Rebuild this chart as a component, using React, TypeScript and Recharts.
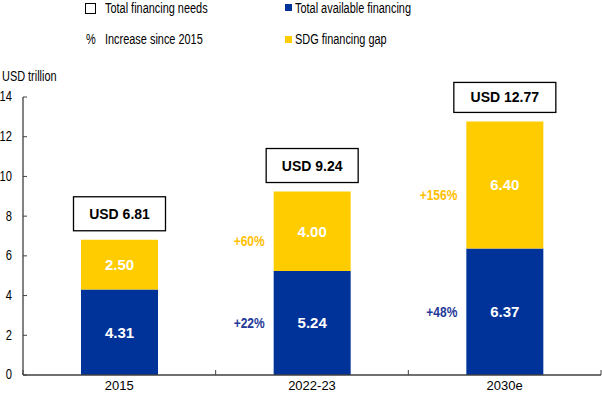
import React from 'react'
import { BarChart, Bar, XAxis, YAxis, LabelList } from 'recharts'

// ─── data ───────────────────────────────────────────────────────────────────
const categories = ['2015', '2022-23', '2030e']
const availableFinancing = [4.31, 5.24, 6.37]
const financingGap = [2.5, 4.0, 6.4]
const totalNeeds = [6.81, 9.24, 12.77]
const availableIncrease = ['', '+22%', '+48%']
const gapIncrease = ['', '+60%', '+156%']
const yTicks = [0, 2, 4, 6, 8, 10, 12, 14]

const BLUE = '#003399'
const YELLOW = '#FFCC00'
const BLUE_TXT = '#1F3A99'
const YELLOW_TXT = '#FFC000'
const AXIS = '#404040'
const SANS = '"Liberation Sans", Arial, sans-serif'
const SQUEEZE = 0.8 // no narrow font installed, squeeze Liberation Sans instead

const W = 602
const H = 393
const M = { top: 97, right: 1, left: 0, bottom: 0 }
const Y_W = 23
const BAND = (W - M.left - M.right - Y_W) / categories.length

const data = categories.map((name, i) => ({
  name,
  available: availableFinancing[i],
  gap: financingGap[i],
}))

// narrow text helper (svg)
function NarrowText({ x, y, anchor = 'start', children, ...rest }: any) {
  return (
    <text transform={`translate(${x},${y}) scale(${SQUEEZE},1)`} x={0} y={0}
      textAnchor={anchor} fontFamily={SANS} {...rest}>
      {children}
    </text>
  )
}

// ─── label renderers ────────────────────────────────────────────────────────
function valueLabel(props: any) {
  const { x, y, width, height, value } = props
  return (
    <text x={x + width / 2} y={y + height / 2} textAnchor="middle" dominantBaseline="central"
      fill="#fff" fontFamily={SANS} fontWeight="bold" fontSize={15}>
      {Number(value).toFixed(2)}
    </text>
  )
}

function pctLabel(list: string[], color: string, dy: number) {
  return (props: any) => {
    const { x, y, height, index } = props
    const txt = list[index]
    if (!txt) return null
    return (
      <NarrowText x={x - 9} y={y + height / 2 + dy} anchor="end" dominantBaseline="central"
        fill={color} fontWeight="bold" fontSize={15}>
        {txt}
      </NarrowText>
    )
  }
}

function totalBox(props: any) {
  const { x, y, width, index } = props
  const txt = `USD ${totalNeeds[index].toFixed(2)}`
  const bw = index === 2 ? 102 : 92
  const bh = index === 2 ? 30 : 34
  const cx = x + width / 2
  const bottom = y - 9
  return (
    <g>
      <rect x={cx - bw / 2} y={bottom - bh} width={bw} height={bh} fill="#fff" stroke="#000" strokeWidth={1.3} />
      <text x={cx} y={bottom - bh / 2} textAnchor="middle" dominantBaseline="central"
        fontFamily={SANS} fontWeight="bold" fontSize={14} fill="#000">
        {txt}
      </text>
    </g>
  )
}

function CategoryTick(props: any) {
  const { x, y, payload, index } = props
  const axisY = y
  return (
    <g>
      <line x1={x - BAND / 2} x2={x - BAND / 2} y1={axisY} y2={axisY - 5} stroke={AXIS} />
      {index === categories.length - 1 && (
        <line x1={x + BAND / 2} x2={x + BAND / 2} y1={axisY} y2={axisY - 5} stroke={AXIS} />
      )}
      <text x={x} y={axisY + 6} dy="0.71em" textAnchor="middle" fontFamily={SANS} fontSize={13} fill="#000">
        {payload.value}
      </text>
    </g>
  )
}

function ValueTick(props: any) {
  const { x, y, payload } = props
  return (
    <g>
      <line x1={x} x2={x + 4} y1={y} y2={y} stroke={AXIS} />
      <NarrowText x={x - 11} y={y} anchor="end" dominantBaseline="central" fontSize={14} fill="#000">
        {payload.value}
      </NarrowText>
    </g>
  )
}

// ─── legend (html overlay) ──────────────────────────────────────────────────
const legText: React.CSSProperties = {
  position: 'absolute', fontFamily: SANS, fontSize: 14, color: '#000', lineHeight: '16px',
  whiteSpace: 'nowrap', transform: 'scaleX(0.78)', transformOrigin: 'left center',
}

function LegendBlock() {
  return (
    <>
      <div style={{ position: 'absolute', left: 85, top: 3, width: 9, height: 9, border: '1.3px solid #000' }} />
      <div style={{ ...legText, left: 105, top: 0 }}>Total financing needs</div>
      <div style={{ ...legText, left: 86, top: 31 }}>%</div>
      <div style={{ ...legText, left: 105, top: 31 }}>Increase since 2015</div>
      <div style={{ position: 'absolute', left: 285, top: 4, width: 7, height: 7, background: BLUE }} />
      <div style={{ ...legText, left: 295, top: 0 }}>Total available financing</div>
      <div style={{ position: 'absolute', left: 285, top: 36, width: 7, height: 7, background: YELLOW }} />
      <div style={{ ...legText, left: 295, top: 31 }}>SDG financing gap</div>
      <div style={{ ...legText, left: 2, top: 68 }}>USD trillion</div>
    </>
  )
}

export default function App() {
  return (
    <div style={{ position: 'absolute', left: 0, top: 0, width: W, height: H, background: '#fff' }}>
      <BarChart width={W} height={H} data={data} margin={M} barSize={77}>
        <XAxis dataKey="name" tickLine={false} tickSize={0} tickMargin={0} height={18}
          axisLine={{ stroke: AXIS, strokeWidth: 1.3 }} tick={<CategoryTick />} interval={0} />
        <YAxis domain={[0, 14]} ticks={yTicks} width={Y_W} tickSize={0} tickMargin={0}
          axisLine={{ stroke: AXIS, strokeWidth: 1.3 }} tickLine={false} tick={<ValueTick />} />
        <Bar dataKey="available" stackId="a" fill={BLUE} isAnimationActive={false}>
          <LabelList dataKey="available" content={valueLabel} />
          <LabelList dataKey="available" content={pctLabel(availableIncrease, BLUE_TXT, 0)} />
        </Bar>
        <Bar dataKey="gap" stackId="a" fill={YELLOW} isAnimationActive={false}>
          <LabelList dataKey="gap" content={valueLabel} />
          <LabelList dataKey="gap" content={pctLabel(gapIncrease, YELLOW_TXT, 10)} />
          <LabelList dataKey="gap" content={totalBox} />
        </Bar>
      </BarChart>
      <LegendBlock />
    </div>
  )
}
